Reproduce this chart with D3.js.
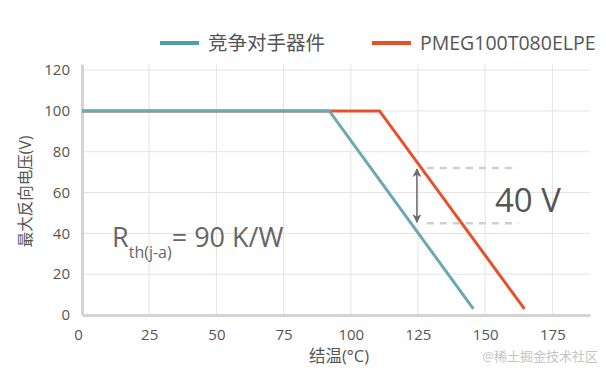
<!DOCTYPE html>
<html lang="zh">
<head>
  <meta charset="UTF-8">
  <title>最大反向电压 vs 结温</title>
  <script src="https://cdn.jsdelivr.net/npm/d3@7"></script>
  <style>
    body { margin: 0; background: #fff; }
    text { font-family: "Open Sans", "Noto Sans CJK SC", sans-serif; }
  </style>
</head>
<body>
  <svg id="chart" width="606" height="376"></svg>
  <script>
    // series
    const seriesNames = ["竞争对手器件", "PMEG100T080ELPE"];
    const seriesColors = ["#6aa9b1", "#e8502a"];
    const competitorT = [0, 92, 145.6];
    const competitorV = [100, 100, 3];
    const pmegT = [0, 110.7, 164.6];
    const pmegV = [100, 100, 3];

    // ticks
    const xTicks = [0, 25, 50, 75, 100, 125, 150, 175];
    const yTicks = [0, 20, 40, 60, 80, 100, 120];

    // annotation values
    const bandTop = 72, bandBottom = 45, bandT = [128.3, 162.4];
    const arrowT = 124.6;

    const w = 606, h = 376;
    const m = { left: 82, right: 16, top: 64, bottom: 61 };

    const x = d3.scaleLinear().domain([0, 189]).range([m.left, w - m.right]);
    const y = d3.scaleLinear().domain([0, 123]).range([h - m.bottom, m.top]);

    const svg = d3.select("#chart");

    // grid
    svg.append("g")
      .selectAll("line")
      .data(yTicks.filter(d => d > 0))
      .enter().append("line")
      .attr("x1", x(0)).attr("x2", x(189))
      .attr("y1", d => y(d)).attr("y2", d => y(d))
      .attr("stroke", "#e3e3e3").attr("stroke-width", 1);

    svg.append("g")
      .selectAll("line")
      .data(xTicks.filter(d => d > 0))
      .enter().append("line")
      .attr("x1", d => x(d)).attr("x2", d => x(d))
      .attr("y1", y(0)).attr("y2", y(123))
      .attr("stroke", "#e3e3e3").attr("stroke-width", 1);

    // axes
    const xAxis = d3.axisBottom(x).tickValues(xTicks).tickSize(0).tickPadding(14);
    const yAxis = d3.axisLeft(y).tickValues(yTicks).tickSize(0).tickPadding(12);

    const gx = svg.append("g")
      .attr("transform", "translate(0," + y(0) + ")")
      .call(xAxis);
    const gy = svg.append("g")
      .attr("transform", "translate(" + x(0) + ",0)")
      .call(yAxis);

    [gx, gy].forEach(g => {
      g.select(".domain").attr("stroke", "#d4d4d4").attr("stroke-width", 3);
      g.selectAll("text").attr("fill", "#555").style("font-size", "15px")
        .style("font-family", "'Open Sans', sans-serif");
    });
    gx.selectAll(".tick").filter(d => d === 0).select("text").attr("dx", -4);

    // lines
    const line = d3.line().x(d => x(d[0])).y(d => y(d[1]));
    const series = [
      d3.zip(competitorT, competitorV),
      d3.zip(pmegT, pmegV)
    ];
    svg.append("g")
      .selectAll("path")
      .data([1, 0])
      .enter().append("path")
      .attr("d", i => line(series[i]))
      .attr("fill", "none")
      .attr("stroke", i => seriesColors[i])
      .attr("stroke-width", 3);

    // dashed band
    svg.append("g")
      .selectAll("line")
      .data([bandTop, bandBottom])
      .enter().append("line")
      .attr("x1", x(bandT[0])).attr("x2", x(bandT[1]))
      .attr("y1", d => y(d)).attr("y2", d => y(d))
      .attr("stroke", "#cfcfcf").attr("stroke-width", 2.5)
      .attr("stroke-dasharray", "7,6");

    // double arrow
    svg.append("defs").append("marker")
      .attr("id", "ah").attr("viewBox", "0 0 10 10")
      .attr("refX", 9).attr("refY", 5)
      .attr("markerWidth", 6).attr("markerHeight", 6)
      .attr("orient", "auto-start-reverse")
      .append("path").attr("d", "M0,0 L10,5 L0,10 L3,5 Z").attr("fill", "#6b6b6b");

    svg.append("line")
      .attr("x1", x(arrowT)).attr("x2", x(arrowT))
      .attr("y1", y(bandTop) + 1).attr("y2", y(bandBottom) - 1)
      .attr("stroke", "#6b6b6b").attr("stroke-width", 1.5)
      .attr("marker-start", "url(#ah)").attr("marker-end", "url(#ah)");

    svg.append("text")
      .attr("x", 495).attr("y", 212)
      .attr("fill", "#555").style("font-size", "33px")
      .text("40 V");

    // Rth annotation
    const rt = svg.append("text")
      .attr("x", 112).attr("y", 247)
      .attr("fill", "#666").style("font-size", "27px");
    rt.append("tspan").text("R");
    rt.append("tspan").attr("dy", 11).style("font-size", "16px").text("th(j-a)");
    rt.append("tspan").attr("dy", -11).text("= 90 K/W");

    // axis titles
    svg.append("text")
      .attr("transform", "translate(31," + ((y(0) + y(123)) / 2 + 2) + ") rotate(-90)")
      .attr("text-anchor", "middle")
      .attr("fill", "#555").style("font-size", "15.5px")
      .text("最大反向电压(V)");

    svg.append("text")
      .attr("x", 339).attr("y", 362)
      .attr("text-anchor", "middle")
      .attr("fill", "#555").style("font-size", "16.5px")
      .text("结温(°C)");

    // legend
    const legendX = [160, 372];
    const lg = svg.append("g")
      .selectAll("g")
      .data(seriesNames)
      .enter().append("g")
      .attr("transform", (d, i) => "translate(" + legendX[i] + ",43)");
    lg.append("line")
      .attr("x1", 0).attr("x2", 39).attr("y1", 0).attr("y2", 0)
      .attr("stroke", (d, i) => i === 0 ? "#4f9eaa" : seriesColors[1])
      .attr("stroke-width", 4);
    lg.append("text")
      .attr("x", 48).attr("y", 7)
      .attr("fill", "#555").style("font-size", "19.5px")
      .text(d => d);

    // watermark
    svg.append("text")
      .attr("x", 598).attr("y", 361)
      .attr("text-anchor", "end")
      .attr("fill", "#c4c4c4").style("font-size", "13px")
      .text("@稀土掘金技术社区");
  </script>
</body>
</html>
